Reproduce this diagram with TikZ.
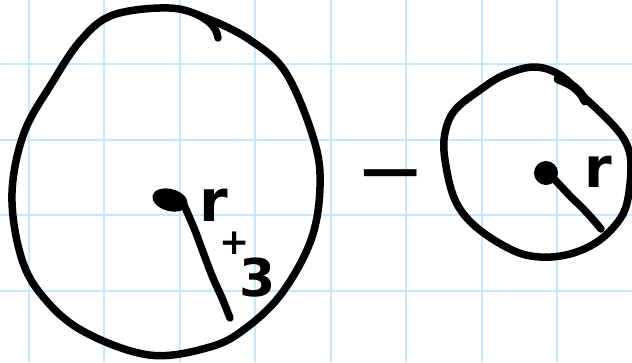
\documentclass[tikz,border=0pt]{standalone}
\usepackage{fontspec}
\newfontfamily\hand{DejaVu Sans}
\begin{document}
\begin{tikzpicture}[x=1pt,y=-1pt,
  grid/.style={draw={rgb,255:red,200;green,230;blue,252}, line width=2pt},
  ink/.style={draw=black, line width=7.5pt, line cap=round, line join=round},
  hw/.style={inner sep=0pt, text=black, font=\hand\bfseries}]
\useasboundingbox (0,0) rectangle (632,362);
\fill[white] (0,0) rectangle (632,362);
% grid
\foreach \gx in {28.5,104,179.5,255,330.5,406,481.5,557}
  \draw[grid] (\gx,0) -- (\gx,362);
\foreach \gy in {64,139.5,215,290.5}
  \draw[grid] (0,\gy) -- (632,\gy);
% big egg
\draw[ink] plot[smooth cycle, tension=0.6] coordinates {
  (169,8) (206,18) (250,40) (286,73) (314,140) (320,187) (311,240)
  (282,293) (246,328) (210,347) (149,355) (81,330) (40,293) (20,253)
  (12,193) (24,133) (52,83) (81,40) (113,15)};
\draw[ink] (198,15) .. controls (212,22) and (217,30) .. (218,38);
% big centre blob and radius
\fill[black, rotate around={-15:(170,200)}] (170,200) ellipse (18 and 11);
\draw[ink] plot[smooth, tension=0.7] coordinates {
  (183,203) (194,228) (203,252) (213,278) (222,298) (230,318)};
\node[hw, font=\hand\bfseries\fontsize{58}{58}\selectfont] (rbig) at (214,205) {r};
\node[hw, font=\hand\bfseries\fontsize{36}{36}\selectfont] (plus) at (235,243) {+};
\node[hw, font=\hand\bfseries\fontsize{52}{52}\selectfont] (three) at (258,278) {3};
% minus
\node[hw, font=\hand\fontsize{84}{84}\selectfont] (minus) at (391,185) {−};
% small circle
\draw[ink] plot[smooth cycle, tension=0.6] coordinates {
  (534,67) (560,75) (584,97) (613,125) (627,145) (631,167) (627,203)
  (617,223) (597,242) (570,254) (540,257) (512,250) (476,227) (455,200)
  (445,160) (445,133) (455,110) (480,90) (504,75)};
\draw[ink, line width=9pt] (558,79) .. controls (572,84) and (580,90) .. (585,101);
\fill[black] (546,173) circle (12);
\draw[ink] (555,180) -- (572,198) .. controls (585,210) and (592,218) .. (601,229);
\node[hw, font=\hand\bfseries\fontsize{56}{56}\selectfont] (rsmall) at (598,172) {r};
\end{tikzpicture}
\end{document}
